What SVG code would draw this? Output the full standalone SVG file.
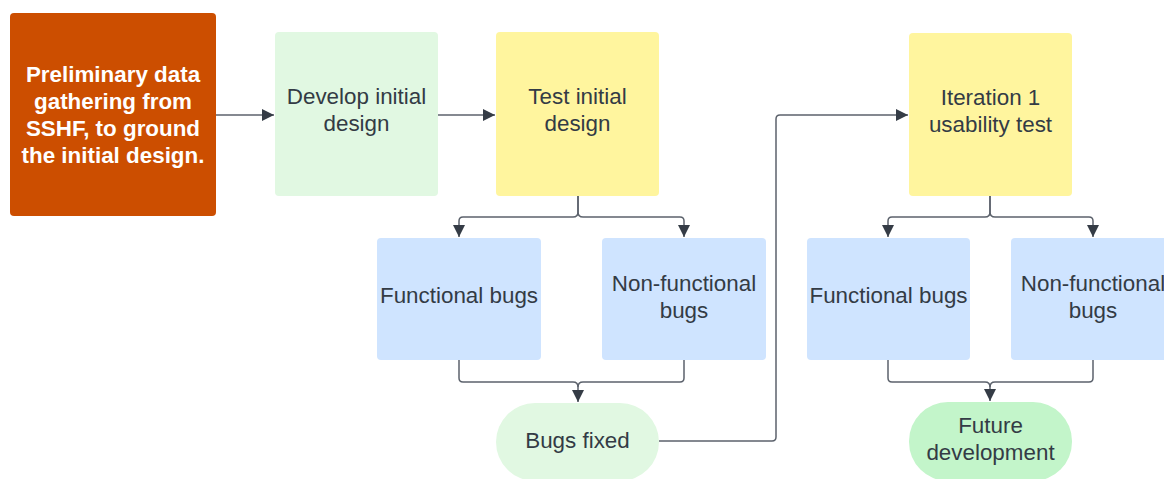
<svg xmlns="http://www.w3.org/2000/svg" width="1164" height="479" viewBox="0 0 1164 479">
<style>
.t{font-family:"Liberation Sans",Arial,sans-serif;font-size:22.4px;fill:#333B45;text-anchor:middle}
.w{font-family:"Liberation Sans",Arial,sans-serif;font-size:22.4px;font-weight:bold;fill:#FFFFFF;text-anchor:middle}
.c{fill:none;stroke:#5C626C;stroke-width:1.5}
</style>
<defs>
<marker id="a" viewBox="0 0 10 10" refX="10" refY="5" markerWidth="13" markerHeight="12" markerUnits="userSpaceOnUse" orient="auto">
<path d="M0,0 L10,5 L0,10 Z" fill="#353C46"/>
</marker>
</defs>
<rect width="1164" height="479" fill="#FFFFFF"/>
<g id="connectors">
<path class="c" d="M216,115 H274" marker-end="url(#a)"/>
<path class="c" d="M438,115 H495" marker-end="url(#a)"/>
<path class="c" d="M578,196 V212 Q578,217 573,217 H463 Q459,217 459,221 V237" marker-end="url(#a)"/>
<path class="c" d="M578,196 V212 Q578,217 583,217 H680 Q684,217 684,221 V237" marker-end="url(#a)"/>
<path class="c" d="M459,360 V378 Q459,382 463,382 H573 Q578,382 578,387 V402" marker-end="url(#a)"/>
<path class="c" d="M684,360 V378 Q684,382 680,382 H583 Q578,382 578,387"/>
<path class="c" d="M659,441 H772 Q776,441 776,437 V119 Q776,115 780,115 H908" marker-end="url(#a)"/>
<path class="c" d="M990,196 V212 Q990,217 985,217 H892 Q888,217 888,221 V237" marker-end="url(#a)"/>
<path class="c" d="M990,196 V212 Q990,217 995,217 H1089 Q1093,217 1093,221 V237" marker-end="url(#a)"/>
<path class="c" d="M888,360 V378 Q888,382 892,382 H985 Q990,382 990,387 V401" marker-end="url(#a)"/>
<path class="c" d="M1093,360 V378 Q1093,382 1089,382 H995 Q990,382 990,387"/>
</g>
<g id="prelim">
<rect x="10" y="13" width="206" height="203" rx="4" fill="#CC4E00"/>
<text class="w" x="113" y="82">Preliminary data</text>
<text class="w" x="113" y="109">gathering from</text>
<text class="w" x="113" y="136">SSHF, to ground</text>
<text class="w" x="113" y="163">the initial design.</text>
</g>
<g id="develop">
<rect x="275" y="32" width="163" height="164" rx="4" fill="#E1F8E2"/>
<text class="t" x="356.5" y="104">Develop initial</text>
<text class="t" x="356.5" y="131">design</text>
</g>
<g id="test">
<rect x="496" y="32" width="163" height="164" rx="4" fill="#FFF59E"/>
<text class="t" x="577.5" y="104">Test initial</text>
<text class="t" x="577.5" y="131">design</text>
</g>
<g id="iteration">
<rect x="909" y="33" width="163" height="163" rx="4" fill="#FFF59E"/>
<text class="t" x="990.5" y="105">Iteration 1</text>
<text class="t" x="990.5" y="132">usability test</text>
</g>
<g id="func1">
<rect x="377" y="238" width="164" height="122" rx="4" fill="#CFE4FF"/>
<text class="t" x="459" y="303">Functional bugs</text>
</g>
<g id="nonfunc1">
<rect x="602" y="238" width="164" height="122" rx="4" fill="#CFE4FF"/>
<text class="t" x="684" y="291">Non-functional</text>
<text class="t" x="684" y="318">bugs</text>
</g>
<g id="func2">
<rect x="807" y="238" width="163" height="122" rx="4" fill="#CFE4FF"/>
<text class="t" x="888.5" y="303">Functional bugs</text>
</g>
<g id="nonfunc2">
<rect x="1011" y="238" width="164" height="122" rx="4" fill="#CFE4FF"/>
<text class="t" x="1093" y="291">Non-functional</text>
<text class="t" x="1093" y="318">bugs</text>
</g>
<g id="bugsfixed">
<rect x="496" y="403" width="163" height="78" rx="39" fill="#E1F8E2"/>
<text class="t" x="577.5" y="448">Bugs fixed</text>
</g>
<g id="future">
<rect x="909" y="402" width="163" height="79" rx="39" fill="#C3F5CA"/>
<text class="t" x="990.5" y="433">Future</text>
<text class="t" x="990.5" y="460">development</text>
</g>
</svg>
